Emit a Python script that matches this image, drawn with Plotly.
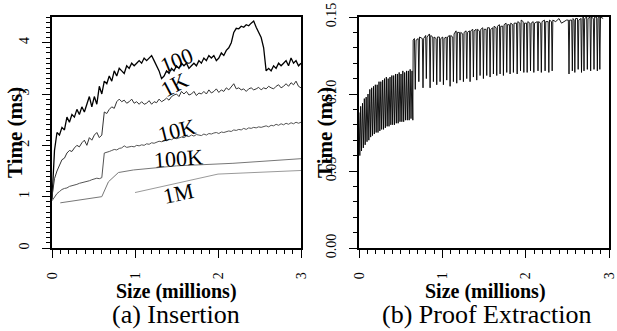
import plotly.graph_objects as go

W, H = 617, 331
FONT = "Liberation Serif"

# ---------------- Insertion data (x grid in millions, step 0.03) ----------------
ins_step = 0.03
ins_100 = [0.95, 1.9, 2.25, 2.2, 2.35, 2.3, 2.55, 2.45, 2.6, 2.55,
           2.7, 2.6, 2.75, 2.65, 2.8, 2.95, 2.75, 2.95, 2.8, 3.15,
           3.0, 3.25, 3.2, 3.35, 3.25, 3.45, 3.35, 3.5, 3.45, 3.4,
           3.55, 3.5, 3.6, 3.55, 3.6, 3.65, 3.6, 3.7, 3.65, 3.7,
           3.75, 3.65, 3.55, 3.45, 3.3, 3.35, 3.45, 3.4, 3.5, 3.45,
           3.55, 3.5, 3.6, 3.55, 3.6, 3.5, 3.55, 3.6, 3.55, 3.65,
           3.6, 3.7, 3.65, 3.75, 3.7, 3.75, 3.65, 3.7, 3.8, 3.75,
           3.85, 3.9, 4.0, 4.2, 4.28, 4.27, 4.32, 4.3, 4.35, 4.33,
           4.38, 4.42, 4.3, 4.2, 4.1, 3.9, 3.45, 3.5, 3.45, 3.55,
           3.5, 3.6, 3.55, 3.6, 3.65, 3.55, 3.7, 3.6, 3.65, 3.55,
           3.6]
ins_1k = [1.0, 1.35, 1.5, 1.6, 1.72, 1.75, 1.85, 1.9, 1.88, 1.95,
          2.0, 1.97, 2.05, 2.1, 2.0, 2.15, 2.1, 2.2, 2.25, 2.15,
          2.2, 2.65, 2.62, 2.7, 2.75, 2.72, 2.85, 2.9, 2.85, 2.88,
          2.82, 2.85, 2.9, 2.82, 2.85, 2.8, 2.85, 2.8, 2.82, 2.87,
          2.8, 2.85, 2.83, 2.9, 2.85, 2.88, 2.92, 2.88, 2.95, 2.98,
          3.0, 2.95, 3.05, 3.0, 3.05, 2.98, 3.0, 3.05, 2.97, 3.02,
          3.0, 3.05, 3.0, 3.08, 3.02, 3.05, 3.1, 3.03, 3.08, 3.05,
          3.12, 3.08, 3.15, 3.2, 3.1, 3.12, 3.08, 3.1, 3.05, 3.1,
          3.12, 3.08, 3.1, 3.13, 3.08, 3.12, 3.1, 3.15, 3.12, 3.1,
          3.15, 3.18, 3.12, 3.15, 3.2, 3.15, 3.22, 3.18, 3.25, 3.15,
          3.12]
ins_10k = [0.92, 1.0, 1.06, 1.1, 1.14, 1.16, 1.17, 1.2, 1.21, 1.23,
           1.24, 1.26, 1.27, 1.29, 1.3, 1.31, 1.33, 1.34, 1.36, 1.35,
           1.37, 1.85, 1.86, 1.88, 1.9, 1.92, 1.91, 1.94, 1.95, 1.99,
           1.96, 1.97, 1.98, 1.97, 2.0, 1.99, 2.01, 2.0, 2.03, 2.02,
           2.05, 2.04, 2.06, 2.08, 2.07, 2.1, 2.09, 2.12, 2.11, 2.14,
           2.13, 2.15, 2.16, 2.15, 2.18, 2.17, 2.2, 2.18, 2.21, 2.2,
           2.19, 2.22, 2.2, 2.23, 2.22, 2.24, 2.25, 2.23, 2.26, 2.25,
           2.27, 2.28, 2.27, 2.3, 2.29, 2.31, 2.3, 2.33, 2.31, 2.34,
           2.33, 2.35, 2.34, 2.36, 2.35, 2.37, 2.38, 2.36, 2.39, 2.38,
           2.41, 2.39, 2.42, 2.4, 2.43, 2.41, 2.44, 2.42, 2.45, 2.43,
           2.45]
ins_100k_x = [0.1, 0.6, 0.68, 0.8, 0.98, 1.5, 2.18, 3.0]
ins_100k_y = [0.88, 1.0, 1.29, 1.47, 1.52, 1.6, 1.65, 1.74]
ins_1m_x = [1.0, 2.0, 3.0]
ins_1m_y = [1.08, 1.44, 1.51]

labels_text = ["100", "1K", "10K", "100K", "1M"]
labels_x = [1.5, 1.48, 1.5, 1.52, 1.52]
labels_y = [3.66, 3.18, 2.28, 1.74, 1.07]
labels_ang = [-22, -28, -14, -4, -12]

# ---------------- Proof extraction data ----------------
proof_x = [
    0.000, 0.010, 0.020, 0.030, 0.042, 0.052, 0.064, 0.074, 0.086, 0.096,
    0.108, 0.118, 0.130, 0.140, 0.152, 0.162, 0.174, 0.184, 0.196, 0.206,
    0.218, 0.228, 0.240, 0.250, 0.262, 0.272, 0.284, 0.294, 0.306, 0.316,
    0.328, 0.338, 0.350, 0.360, 0.372, 0.382, 0.394, 0.404, 0.416, 0.426,
    0.438, 0.448, 0.460, 0.470, 0.482, 0.492, 0.504, 0.514, 0.526, 0.536,
    0.548, 0.558, 0.570, 0.580, 0.592, 0.602, 0.614, 0.624, 0.636, 0.646,
    0.650, 0.665, 0.675, 0.685, 0.710, 0.718, 0.726, 0.760, 0.768, 0.776,
    0.800, 0.808, 0.816, 0.845, 0.853, 0.861, 0.885, 0.893, 0.901, 0.925,
    0.933, 0.941, 0.965, 0.973, 0.981, 1.005, 1.013, 1.021, 1.045, 1.053,
    1.061, 1.085, 1.093, 1.101, 1.125, 1.133, 1.141, 1.165, 1.173, 1.181,
    1.205, 1.213, 1.221, 1.245, 1.253, 1.261, 1.285, 1.293, 1.301, 1.325,
    1.333, 1.341, 1.365, 1.373, 1.381, 1.405, 1.413, 1.421, 1.445, 1.453,
    1.461, 1.485, 1.493, 1.501, 1.525, 1.533, 1.541, 1.565, 1.573, 1.581,
    1.605, 1.613, 1.621, 1.645, 1.653, 1.661, 1.685, 1.693, 1.701, 1.725,
    1.733, 1.741, 1.765, 1.773, 1.781, 1.805, 1.813, 1.821, 1.845, 1.853,
    1.861, 1.890, 1.898, 1.906, 1.930, 1.938, 1.946, 1.970, 1.978, 1.986,
    2.010, 2.018, 2.026, 2.050, 2.058, 2.066, 2.090, 2.098, 2.106, 2.140,
    2.148, 2.156, 2.180, 2.188, 2.196, 2.225, 2.233, 2.241, 2.270, 2.278,
    2.286, 2.310, 2.318, 2.326, 2.360, 2.400, 2.430, 2.460, 2.490, 2.512,
    2.520, 2.528, 2.552, 2.560, 2.568, 2.582, 2.590, 2.598, 2.622, 2.630,
    2.638, 2.662, 2.670, 2.678, 2.692, 2.700, 2.708, 2.732, 2.740, 2.748,
    2.772, 2.780, 2.788, 2.812, 2.820, 2.828, 2.852, 2.860, 2.868, 2.882,
    2.890, 2.898, 2.930]
proof_y = [
    0.088, 0.060, 0.092, 0.063, 0.094, 0.065, 0.097, 0.067, 0.098, 0.069,
    0.100, 0.070, 0.103, 0.072, 0.104, 0.073, 0.105, 0.074, 0.106, 0.075,
    0.106, 0.075, 0.108, 0.076, 0.108, 0.077, 0.109, 0.077, 0.110, 0.078,
    0.111, 0.079, 0.110, 0.079, 0.111, 0.080, 0.112, 0.080, 0.112, 0.080,
    0.113, 0.081, 0.113, 0.081, 0.114, 0.082, 0.113, 0.082, 0.115, 0.082,
    0.114, 0.083, 0.115, 0.083, 0.115, 0.083, 0.116, 0.084, 0.115, 0.083,
    0.135, 0.136, 0.103, 0.135, 0.136, 0.108, 0.137, 0.136, 0.104, 0.136,
    0.138, 0.110, 0.137, 0.139, 0.104, 0.138, 0.137, 0.108, 0.137, 0.136,
    0.106, 0.137, 0.137, 0.108, 0.136, 0.137, 0.106, 0.136, 0.137, 0.109,
    0.137, 0.138, 0.105, 0.138, 0.137, 0.108, 0.139, 0.141, 0.107, 0.140,
    0.140, 0.109, 0.140, 0.139, 0.108, 0.140, 0.141, 0.110, 0.140, 0.141,
    0.108, 0.141, 0.142, 0.111, 0.141, 0.142, 0.109, 0.142, 0.141, 0.112,
    0.142, 0.143, 0.110, 0.142, 0.142, 0.112, 0.143, 0.143, 0.111, 0.142,
    0.143, 0.113, 0.144, 0.143, 0.112, 0.144, 0.145, 0.113, 0.144, 0.144,
    0.112, 0.145, 0.146, 0.114, 0.145, 0.145, 0.113, 0.146, 0.145, 0.114,
    0.146, 0.146, 0.113, 0.147, 0.146, 0.115, 0.148, 0.147, 0.114, 0.146,
    0.146, 0.114, 0.147, 0.146, 0.115, 0.146, 0.147, 0.114, 0.146, 0.147,
    0.115, 0.147, 0.146, 0.114, 0.147, 0.148, 0.115, 0.147, 0.147, 0.114,
    0.148, 0.147, 0.115, 0.148, 0.147, 0.149, 0.146, 0.147, 0.148, 0.148,
    0.113, 0.148, 0.148, 0.115, 0.149, 0.148, 0.114, 0.149, 0.149, 0.116,
    0.148, 0.149, 0.114, 0.149, 0.150, 0.115, 0.149, 0.150, 0.116, 0.149,
    0.150, 0.115, 0.150, 0.149, 0.116, 0.150, 0.150, 0.115, 0.149, 0.150,
    0.116, 0.150, 0.149]

x_ticks = [0, 1, 2, 3]
x_ticktext = ["0", "1", "2", "3"]

ins_x = [round(i * ins_step, 2) for i in range(len(ins_100))]

fig = go.Figure()
series = [(ins_x, ins_100, "#000000", 1.3),
          (ins_x, ins_1k, "#333333", 1.0),
          (ins_x, ins_10k, "#555555", 1.0),
          (ins_100k_x, ins_100k_y, "#777777", 1.0),
          (ins_1m_x, ins_1m_y, "#9a9a9a", 1.0)]
for xs, ys, c, w in series:
    fig.add_trace(go.Scatter(x=xs, y=ys, mode="lines", line=dict(color=c, width=w),
                             xaxis="x", yaxis="y", showlegend=False, hoverinfo="skip"))
fig.add_trace(go.Scatter(x=proof_x, y=proof_y, mode="lines", line=dict(color="#000000", width=0.9),
                         xaxis="x2", yaxis="y2", showlegend=False, hoverinfo="skip"))

def px_x(p):
    return p / W

def px_y(p):
    return 1 - p / H

tickfont = dict(family=FONT, size=14, color="black")
axis_common = dict(showgrid=False, zeroline=False, showline=True, linecolor="black",
                   linewidth=1.5, mirror=True, ticks="outside", ticklen=8, tickwidth=1.3,
                   tickcolor="black", tickfont=tickfont, tickangle=-90, automargin=False)
minor_common = dict(ticks="outside", ticklen=4, tickcolor="black", tickwidth=1)

fig.update_layout(
    width=W, height=H, margin=dict(l=0, r=0, t=0, b=0),
    paper_bgcolor="white", plot_bgcolor="white",
    xaxis=dict(domain=[px_x(52), px_x(301)], range=[0, 3], tickvals=x_ticks, ticktext=x_ticktext,
               minor=dict(dtick=0.1, **minor_common),
               ticklabelstandoff=9, anchor="y", **axis_common),
    yaxis=dict(domain=[px_y(248), px_y(17)], range=[0, 4.5], tickvals=[0, 1, 2, 3, 4],
               minor=dict(dtick=0.1, **minor_common),
               ticklabelstandoff=8, anchor="x", **axis_common),
    xaxis2=dict(domain=[px_x(359), px_x(609)], range=[0, 3], tickvals=x_ticks, ticktext=x_ticktext,
                minor=dict(dtick=0.1, **minor_common),
                ticklabelstandoff=9, anchor="y2", **axis_common),
    yaxis2=dict(domain=[px_y(248), px_y(17)], range=[0, 0.15], tickvals=[0, 0.05, 0.1, 0.15],
                tickformat=".2f",
                minor=dict(dtick=0.01, **minor_common),
                ticklabelstandoff=8, anchor="x2", **axis_common),
)

ann = []
for t, x, y, a in zip(labels_text, labels_x, labels_y, labels_ang):
    ann.append(dict(text=t, x=x, y=y, xref="x", yref="y", showarrow=False, textangle=a,
                    xanchor="center", yanchor="middle",
                    font=dict(family=FONT, size=22, color="black")))

def pann(text, x, y, size, angle=0):
    return dict(text=text, x=px_x(x), y=px_y(y), xref="paper", yref="paper",
                xanchor="center", yanchor="middle", showarrow=False, textangle=angle,
                font=dict(family=FONT, size=size, color="black"))

ann += [
    pann("<b>Time (ms)</b>", 15, 133, 21, -90),
    pann("<b>Time (ms)</b>", 325, 133, 21, -90),
    pann("<b>Size (millions)</b>", 176, 291, 20),
    pann("<b>Size (millions)</b>", 485, 291, 20),
    pann("(a) Insertion", 176, 314, 26),
    pann("(b) Proof Extraction", 486, 314, 26),
]
fig.update_layout(annotations=ann)

fig.write_html("out.html", config={"displayModeBar": False},
               post_script="document.body.style.margin='0';document.body.style.overflow='hidden';")
